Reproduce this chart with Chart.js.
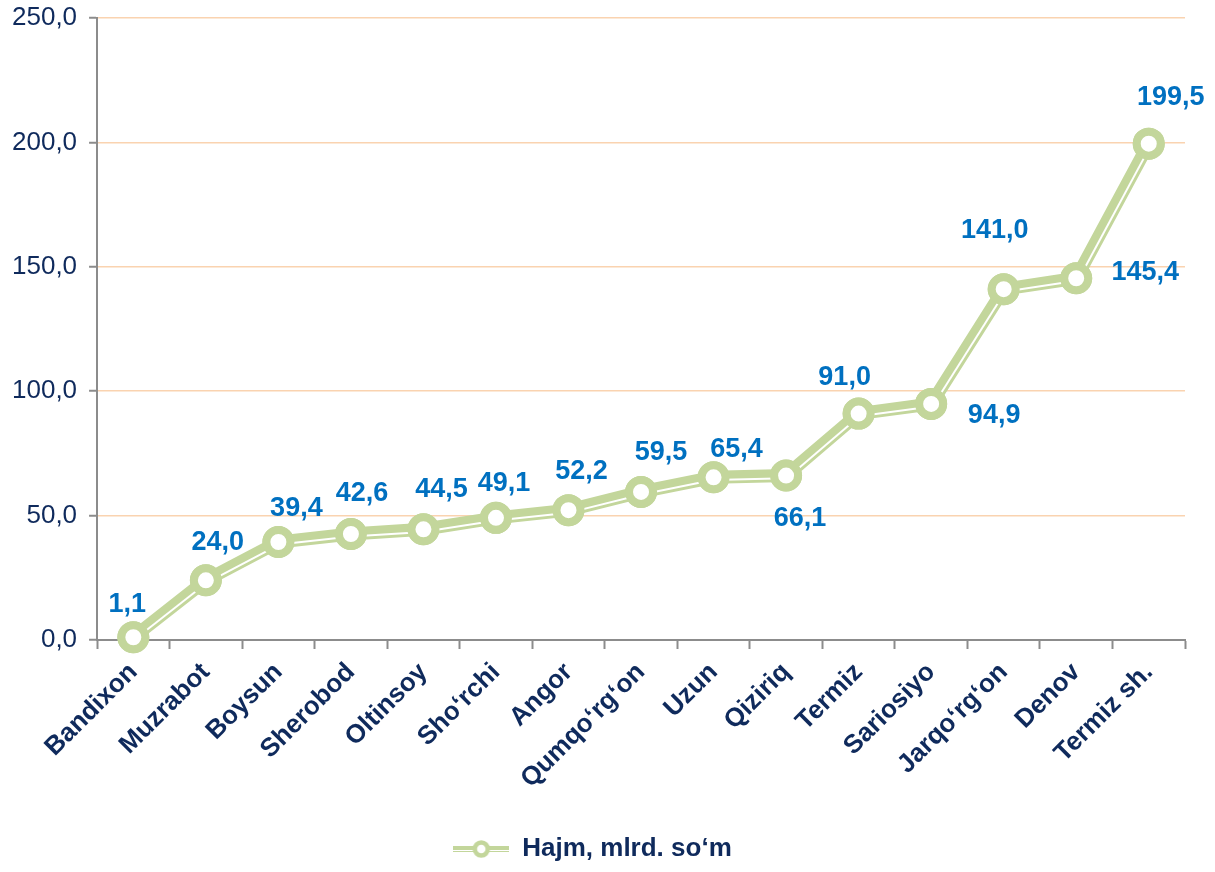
<!DOCTYPE html>
<html>
<head>
<meta charset="utf-8">
<script src="https://cdn.jsdelivr.net/npm/chart.js@4"></script>
<style>
  body { margin: 0; background: #fff; }
  #wrap { width: 1215px; height: 872px; position: relative; }
</style>
</head>
<body>
<div id="wrap"><canvas id="chart"></canvas></div>
<script>
// data
const categories = ['Bandixon', 'Muzrabot', 'Boysun', 'Sherobod', 'Oltinsoy', 'Sho‘rchi', 'Angor',
  'Qumqo‘rg‘on', 'Uzun', 'Qiziriq', 'Termiz', 'Sariosiyo', 'Jarqo‘rg‘on', 'Denov', 'Termiz sh.'];
const volume = [1.1, 24.0, 39.4, 42.6, 44.5, 49.1, 52.2, 59.5, 65.4, 66.1, 91.0, 94.9, 141.0, 145.4, 199.5];
const yTicks = [0, 50, 100, 150, 200, 250];
const seriesName = 'Hajm, mlrd. so‘m';

const GREEN = '#C3D69B';
const NAVY = '#0F2A5C';
const LABEL_BLUE = '#0070C0';
const FONT = 'Arial, "Liberation Sans", sans-serif';

// where each value label sits relative to its point (dx, dy)
const labelOffsets = [[-6, -33], [12, -38], [18, -33], [11, -40], [18, -40], [8, -34], [13, -39],
  [20, -39], [23, -28], [14, 43], [-14, -36], [63, 12], [-9, -59], [69, -6], [22, -46]];

function fmt(v) {
  return v.toFixed(1).replace('.', ',');
}

// legend marker: double line with hollow circle
function legendMarker() {
  const c = document.createElement('canvas');
  c.width = 56; c.height = 22;
  const g = c.getContext('2d');
  g.strokeStyle = GREEN;
  g.lineWidth = 6;
  g.beginPath(); g.moveTo(0, 11); g.lineTo(56, 11); g.stroke();
  g.strokeStyle = '#fff';
  g.lineWidth = 1;
  g.beginPath(); g.moveTo(0, 12.5); g.lineTo(56, 12.5); g.stroke();
  g.fillStyle = '#fff';
  g.strokeStyle = GREEN;
  g.lineWidth = 4.5;
  g.beginPath(); g.arc(28, 11, 6.5, 0, Math.PI * 2); g.fill(); g.stroke();
  return c;
}

// thin white stripe inside the thick line, then points and value labels on top
const compoundLine = {
  id: 'compoundLine',
  afterDatasetsDraw(chart) {
    const ctx = chart.ctx;
    const pts = chart.getDatasetMeta(0).data;
    ctx.save();
    ctx.strokeStyle = '#fff';
    ctx.lineWidth = 2;
    for (let i = 0; i < pts.length - 1; i++) {
      const a = pts[i], b = pts[i + 1];
      const dx = b.x - a.x, dy = b.y - a.y;
      const len = Math.hypot(dx, dy);
      const nx = -dy / len * 2.6, ny = dx / len * 2.6;
      ctx.beginPath();
      ctx.moveTo(a.x + nx, a.y + ny);
      ctx.lineTo(b.x + nx, b.y + ny);
      ctx.stroke();
    }
    ctx.restore();
    pts.forEach(p => p.draw(ctx));

    ctx.save();
    ctx.font = 'bold 27px ' + FONT;
    ctx.fillStyle = LABEL_BLUE;
    ctx.textAlign = 'center';
    ctx.textBaseline = 'middle';
    pts.forEach((p, i) => {
      const off = labelOffsets[i];
      ctx.fillText(fmt(volume[i]), p.x + off[0], p.y + off[1]);
    });
    ctx.restore();
  }
};

const marker = legendMarker();

new Chart(document.getElementById('chart'), {
  type: 'line',
  data: {
    labels: categories,
    datasets: [{
      label: seriesName,
      data: volume,
      borderColor: GREEN,
      borderWidth: 13,
      pointRadius: 12,
      pointBorderWidth: 8,
      pointBackgroundColor: '#fff',
      pointBorderColor: GREEN,
      tension: 0,
      clip: false
    }]
  },
  options: {
    responsive: true,
    maintainAspectRatio: false,
    animation: false,
    layout: { autoPadding: false, padding: { left: 0, right: 30, top: 2, bottom: 0 } },
    plugins: {
      tooltip: { enabled: false },
      legend: {
        position: 'bottom',
        labels: {
          usePointStyle: true,
          pointStyleWidth: 56,
          color: NAVY,
          font: { family: FONT, size: 26, weight: 'bold' },
          padding: 4,
          generateLabels: () => [{
            text: seriesName,
            pointStyle: marker,
            fontColor: NAVY,
            lineWidth: 0,
            datasetIndex: 0
          }]
        }
      }
    },
    scales: {
      x: {
        offset: true,
        afterFit: scale => { scale.height = 192; },
        grid: {
          offset: true,
          drawOnChartArea: false,
          tickLength: 9,
          tickColor: '#8C8C8C',
          tickWidth: 2
        },
        border: { color: '#8C8C8C', width: 2 },
        ticks: {
          minRotation: 45,
          maxRotation: 45,
          autoSkip: false,
          color: NAVY,
          padding: 8,
          font: { family: FONT, size: 26, weight: 'bold' }
        }
      },
      y: {
        min: 0,
        max: 250,
        afterBuildTicks: scale => { scale.ticks = yTicks.map(v => ({ value: v })); },
        afterFit: scale => { scale.paddingTop = 18; },
        grid: {
          color: '#FAD3B0',
          lineWidth: 1.5,
          tickLength: 8,
          tickColor: '#8C8C8C',
          tickWidth: 2
        },
        border: { color: '#8C8C8C', width: 2 },
        ticks: {
          color: NAVY,
          padding: 12,
          font: { family: FONT, size: 26 },
          callback: v => fmt(v)
        }
      }
    }
  },
  plugins: [compoundLine]
});
</script>
</body>
</html>
